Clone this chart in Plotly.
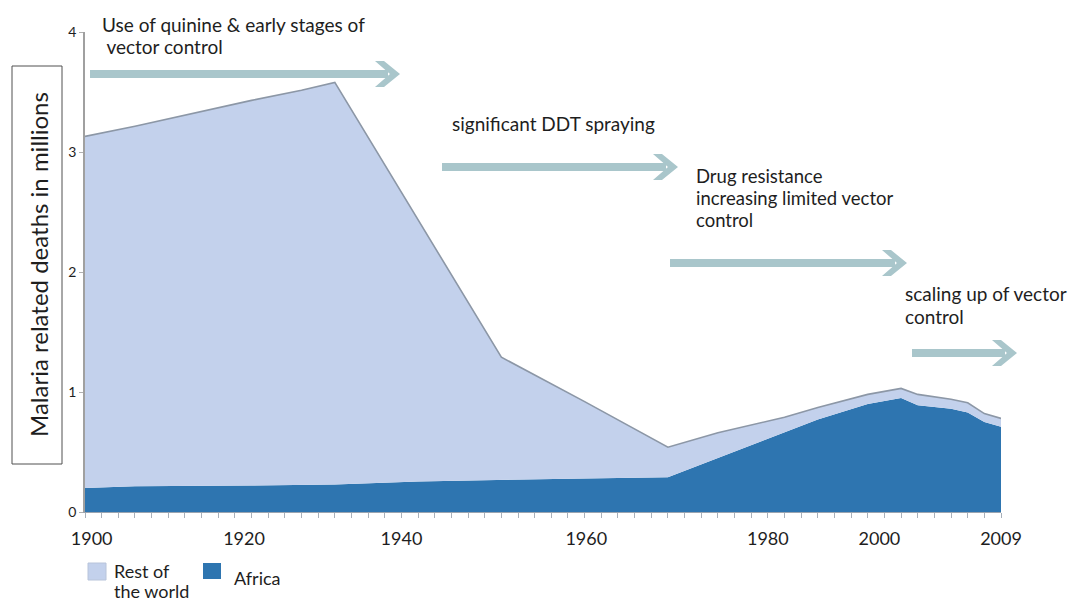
import plotly.graph_objects as go

# Category positions along the x axis (one category per tick mark)
period_index = [0, 3, 10, 13, 15, 20, 25, 30, 35, 38, 42, 44, 47, 49, 50, 52, 53, 54, 55]

# Malaria related deaths (millions)
africa = [0.20, 0.215, 0.22, 0.225, 0.23, 0.255, 0.27, 0.28, 0.29, 0.45, 0.67, 0.77, 0.90, 0.95,
          0.89, 0.86, 0.83, 0.75, 0.71]
rest_of_world = [2.93, 3.00, 3.21, 3.29, 3.35, 2.18, 1.02, 0.64, 0.25, 0.21, 0.12, 0.10, 0.08,
                 0.08, 0.09, 0.08, 0.08, 0.07, 0.07]

# Year labels shown under the axis and where they sit on the category scale
year_labels = ["1900", "1920", "1940", "1960", "1980", "2000", "2009"]
year_label_pos = [0.4, 9.55, 19.0, 30.1, 41.0, 47.7, 55.0]

# Phase notes (one entry per text line)
phase_notes = [
    ["Use of quinine & early stages of", " vector control"],
    ["significant DDT spraying"],
    ["Drug resistance", "increasing limited vector", "control"],
    ["scaling up of vector", "control"],
]

AFRICA_COLOR = "#2e75b0"
REST_COLOR = "#c3d1ec"
ARROW_COLOR = "#a9c6cb"
TEXT_COLOR = "#1e1e1e"
FONT = "Lato"

W, H = 1071, 603
L, R, T, B = 85, 1001, 32, 512


def fx(xp):
    return (xp - L) / (R - L)


def fy(yp):
    return (B - yp) / (B - T)


fig = go.Figure()
fig.add_trace(go.Scatter(
    x=period_index, y=africa, name="Africa", stackgroup="deaths", mode="lines",
    line=dict(width=0, color=AFRICA_COLOR), fillcolor=AFRICA_COLOR, showlegend=False,
))
fig.add_trace(go.Scatter(
    x=period_index, y=rest_of_world, name="Rest of the world", stackgroup="deaths", mode="lines",
    line=dict(width=1.6, color="#8c97a6"), fillcolor=REST_COLOR, showlegend=False,
))

shapes = []
annotations = []


def arrow(x0, x_tip, y, half=13):
    shapes.append(dict(type="line", xref="paper", yref="paper",
                       x0=fx(x0), x1=fx(x_tip - 12), y0=fy(y), y1=fy(y),
                       line=dict(color=ARROW_COLOR, width=8)))
    pts = [(x_tip - 25, y - half), (x_tip - 16, y - half), (x_tip, y),
           (x_tip - 16, y + half), (x_tip - 25, y + half), (x_tip - 10, y)]
    path = "M " + " L ".join(f"{fx(a):.5f},{fy(b):.5f}" for a, b in pts) + " Z"
    shapes.append(dict(type="path", xref="paper", yref="paper", path=path,
                       fillcolor=ARROW_COLOR, line=dict(width=0)))


def note(lines, x_left, y_centers, size=19):
    for text, yc in zip(lines, y_centers):
        annotations.append(dict(text=text, xref="paper", yref="paper", x=fx(x_left), y=fy(yc),
                                xanchor="left", yanchor="middle", align="left", showarrow=False,
                                borderpad=0, font=dict(family=FONT, size=size, color=TEXT_COLOR)))


arrow(90, 400, 74)
arrow(442, 678, 167)
arrow(670, 907, 263)
arrow(912, 1017, 353)

note(phase_notes[0], 101, [24, 46])
note(phase_notes[1], 451, [123])
note(phase_notes[2], 695, [176, 198, 220], size=18.5)
note(phase_notes[3], 904, [293, 316])

# Boxed y-axis title
shapes.append(dict(type="rect", xref="paper", yref="paper",
                   x0=fx(12), x1=fx(62), y0=fy(464), y1=fy(66),
                   line=dict(color="#505050", width=1), fillcolor="white"))
annotations.append(dict(text="Malaria related deaths in millions", xref="paper", yref="paper",
                        x=fx(38), y=fy(265), xanchor="center", yanchor="middle",
                        textangle=-90, showarrow=False,
                        font=dict(family=FONT, size=24, color=TEXT_COLOR)))

# Legend drawn as swatches with labels
shapes.append(dict(type="rect", xref="paper", yref="paper",
                   x0=fx(88), x1=fx(106), y0=fy(580), y1=fy(563),
                   fillcolor=REST_COLOR, line=dict(color="#b8c4da", width=1)))
shapes.append(dict(type="rect", xref="paper", yref="paper",
                   x0=fx(203), x1=fx(221), y0=fy(579), y1=fy(563),
                   fillcolor=AFRICA_COLOR, line=dict(width=0)))
note(["Rest of", "the world"], 113, [571, 591], size=18)
note(["Africa"], 233, [578], size=18)

fig.update_layout(
    width=W, height=H, autosize=False,
    margin=dict(l=L, r=W - R, t=T, b=H - B, pad=0),
    paper_bgcolor="white", plot_bgcolor="white",
    font=dict(family=FONT, color=TEXT_COLOR),
    shapes=shapes, annotations=annotations,
    xaxis=dict(
        range=[0, 55], showgrid=False, zeroline=False,
        showline=True, linecolor="#9aa4b0", linewidth=1,
        tickmode="array", tickvals=year_label_pos, ticktext=year_labels,
        ticks="", ticklabelstandoff=10,
        tickfont=dict(family=FONT, size=18, color=TEXT_COLOR),
        minor=dict(tickmode="linear", tick0=0, dtick=1, ticks="outside",
                   ticklen=5, tickcolor="#a8b0ba", tickwidth=1),
    ),
    yaxis=dict(
        range=[0, 4], showgrid=False, zeroline=False,
        showline=True, linecolor="#a0a0a0", linewidth=1.5,
        tickmode="array", tickvals=[0, 1, 2, 3, 4], ticktext=["0", "1", "2", "3", "4"],
        ticks="outside", ticklen=4, tickcolor="#b0b0b0",
        tickfont=dict(family=FONT, size=14, color=TEXT_COLOR),
    ),
)

fig.write_html("out.html")
